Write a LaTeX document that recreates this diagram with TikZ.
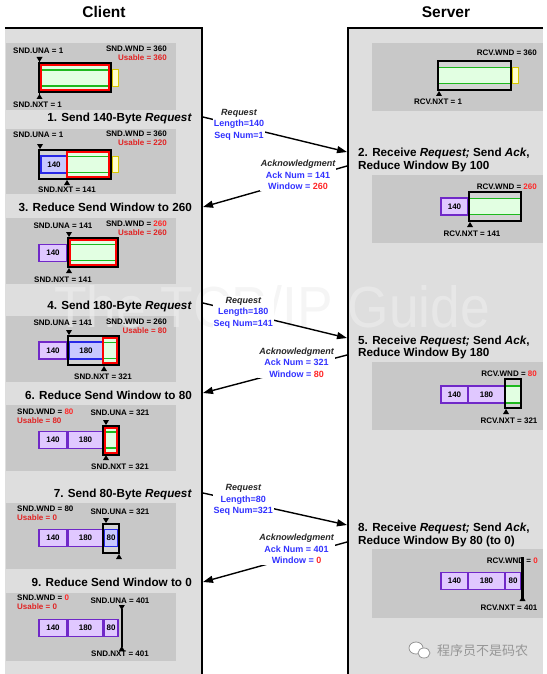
\documentclass[tikz,border=0pt]{standalone}
\usepackage{fontspec}
\setmainfont{Liberation Sans}
\newfontfamily\cjkfont{Noto Sans CJK SC}
\usetikzlibrary{arrows.meta}
\definecolor{panelg}{RGB}{222,222,222}
\definecolor{boxg}{RGB}{200,200,200}
\definecolor{wing}{RGB}{212,212,212}
\definecolor{lgreen}{RGB}{226,255,226}
\definecolor{dgreen}{RGB}{30,185,30}
\definecolor{pfill}{RGB}{224,200,255}
\definecolor{pdraw}{RGB}{112,40,200}
\definecolor{bfill}{RGB}{200,200,255}
\definecolor{bdraw}{RGB}{40,40,230}
\definecolor{yfill}{RGB}{255,255,205}
\definecolor{ydraw}{RGB}{215,200,0}
\definecolor{tblue}{RGB}{50,50,255}
\definecolor{tred}{RGB}{255,40,40}
\definecolor{ured}{RGB}{225,35,35}
\definecolor{wmark}{RGB}{238,238,238}
\definecolor{wxg}{RGB}{150,150,150}
\newcommand\ptrdown[2]{\fill (#1-3,#2-5) -- (#1+3,#2-5) -- (#1,#2) -- cycle;}
\newcommand\ptrup[2]{\fill (#1-3,#2+5) -- (#1+3,#2+5) -- (#1,#2) -- cycle;}
\newcommand\redval[1]{\textcolor{tred}{#1}}
\tikzset{
  lbl/.style={font=\bfseries\fontsize{8}{9}\selectfont, inner sep=0pt, text height=5.8pt, text depth=0pt},
  lblw/.style={lbl, anchor=west},
  lble/.style={lbl, anchor=east},
  usable/.style={text=ured},
  hdr/.style={font=\bfseries\fontsize{11.7}{13}\selectfont, inner sep=0pt, text height=8.4pt, text depth=0pt},
  ttl/.style={font=\bfseries\fontsize{15.5}{17}\selectfont, inner sep=0pt, text height=11.1pt, text depth=0pt},
  msg/.style={line width=1.4pt, -{Triangle[length=10pt,width=7pt]}},
  mlab/.style={fill=white, inner sep=1pt, align=center, text=tblue, font=\bfseries\fontsize{9}{11.5}\selectfont},
  seg/.style={line width=1.3pt, minimum height=17pt, inner sep=0pt, font=\bfseries\fontsize{8}{9}\selectfont},
  pseg/.style={seg, draw=pdraw, fill=pfill},
  bseg/.style={seg, draw=bdraw, fill=bfill},
  winb/.style={draw=black, line width=2pt},
  redbox/.style={draw=red, line width=2pt, fill=lgreen},
  gline/.style={draw=dgreen, line width=1.4pt},
  yel/.style={draw=ydraw, fill=yfill, line width=1pt},
}
\begin{document}
\begin{tikzpicture}[x=1pt,y=-1pt]
\useasboundingbox (0,0) rectangle (546,674);
% panels
\fill[panelg] (5,28) rectangle (202,674);
\fill[panelg] (348,28) rectangle (543,674);
% inner boxes
\fill[boxg] (6,43) rectangle (176,110);
\fill[boxg] (6,129) rectangle (176,194);
\fill[boxg] (6,218) rectangle (176,284);
\fill[boxg] (6,316) rectangle (176,382);
\fill[boxg] (6,405) rectangle (176,471);
\fill[boxg] (6,503) rectangle (176,569);
\fill[boxg] (6,593) rectangle (176,661);
\fill[boxg] (372,43) rectangle (543,111);
\fill[boxg] (372,175) rectangle (543,243);
\fill[boxg] (372,362) rectangle (543,430);
\fill[boxg] (372,549) rectangle (543,618);
% watermark
\node[font=\fontsize{58}{58}\selectfont, text=wmark, opacity=0.6, anchor=base, inner sep=0pt] (wmk) at (272,327) {\scalebox{0.92}[1]{The TCP/IP Guide}};
% borders
\draw[line width=2pt] (5,28) -- (202,28) -- (202,674);
\draw[line width=2pt] (348,674) -- (348,28) -- (543,28);
% titles
\node[ttl] (tcl) at (104,12) {Client};
\node[ttl] (tsv) at (446,12) {Server};

% ---- Box A
\draw[line width=0.8pt] (39.5,57) -- (39.5,99);
\fill[wing] (39,63.5) rectangle (111,92.5);
\draw[redbox] (41,65.5) rectangle (109,90.5);
\draw[gline] (42,70) -- (108,70) (42,86) -- (108,86);
\draw[winb] (39,63.5) rectangle (111,92.5);
\draw[yel] (112.5,69.5) rectangle (118.5,86.5);
\ptrdown{39.5}{62}
\ptrup{39.5}{94}
\node[lblw] (a-una) at (13,51) {SND.UNA = 1};
\node[lblw] (a-nxt) at (13,105) {SND.NXT = 1};
\node[lble] (a-wnd) at (167,49) {SND.WND = 360};
\node[lble,usable] (a-use) at (167,57.5) {Usable = 360};
\node[hdr, anchor=east] (h1) at (192,117) {1. Send 140-Byte \textit{Request}};

% ---- Box B
\fill[wing] (39,150) rectangle (111,179);
\node[bseg, minimum width=26pt] (b140) at (54,164.5) {140};
\draw[redbox] (67,152) rectangle (109,177);
\draw[gline] (68,156.5) -- (108,156.5) (68,172.5) -- (108,172.5);
\draw[winb] (39,150) rectangle (111,179);
\draw[yel] (112.5,156.5) rectangle (118.5,172.5);
\ptrdown{40}{149}
\ptrup{67}{180}
\node[lblw] (b-una) at (13,135) {SND.UNA = 1};
\node[lbl] (b-nxt) at (67,190) {SND.NXT = 141};
\node[lble] (b-wnd) at (167,134) {SND.WND = 360};
\node[lble,usable] (b-use) at (167,143) {Usable = 220};
\node[hdr, anchor=east] (h3) at (192,207) {3. Reduce Send Window to 260};

% ---- Box C
\node[pseg, minimum width=28pt] (c140) at (53,253) {140};
\fill[wing] (68,238) rectangle (118,267);
\draw[redbox] (70,240) rectangle (116,265);
\draw[gline] (71,244.5) -- (115,244.5) (71,260.5) -- (115,260.5);
\draw[winb] (68,238) rectangle (118,267);
\ptrdown{69}{237}
\ptrup{69}{268}
\node[lbl] (c-una) at (63,226) {SND.UNA = 141};
\node[lbl] (c-nxt) at (63,280) {SND.NXT = 141};
\node[lble] (c-wnd) at (167,224) {SND.WND = \redval{260}};
\node[lble,usable] (c-use) at (167,233) {Usable = 260};
\node[hdr, anchor=east] (h4) at (192,305) {4. Send 180-Byte \textit{Request}};

% ---- Box D
\node[pseg, minimum width=28pt] (d140) at (53,350.5) {140};
\fill[wing] (68,336) rectangle (119,365);
\node[bseg, minimum width=34pt] (d180) at (86,350.5) {180};
\draw[redbox] (103,338) rectangle (117,363);
\draw[gline] (104,342.5) -- (116,342.5) (104,358.5) -- (116,358.5);
\draw[winb] (68,336) rectangle (119,365);
\ptrdown{69}{335}
\ptrup{104}{366}
\node[lbl] (d-una) at (63,323) {SND.UNA = 141};
\node[lbl] (d-nxt) at (103,377) {SND.NXT = 321};
\node[lble] (d-wnd) at (167,322) {SND.WND = 260};
\node[lble,usable] (d-use) at (167,331) {Usable = 80};
\node[hdr, anchor=east] (h6) at (192,395) {6. Reduce Send Window to 80};

% ---- Box E
\node[pseg, minimum width=28pt] (e140) at (53,440) {140};
\node[pseg, minimum width=35pt] (e180) at (85.5,440) {180};
\fill[wing] (103,425.5) rectangle (119,454.5);
\draw[redbox] (105,427.5) rectangle (117,452.5);
\draw[gline] (106,432) -- (116,432) (106,448) -- (116,448);
\draw[winb] (103,425.5) rectangle (119,454.5);
\ptrdown{106}{425}
\ptrup{106}{455}
\node[lblw] (e-wnd) at (17,412) {SND.WND = \redval{80}};
\node[lblw,usable] (e-use) at (17,421) {Usable = 80};
\node[lbl] (e-una) at (120,413) {SND.UNA = 321};
\node[lbl] (e-nxt) at (120,467) {SND.NXT = 321};
\node[hdr, anchor=east] (h7) at (192,493) {7. Send 80-Byte \textit{Request}};

% ---- Box F
\node[pseg, minimum width=28pt] (f140) at (53,538) {140};
\node[pseg, minimum width=35pt] (f180) at (85.5,538) {180};
\fill[wing] (103,523.5) rectangle (119,552.5);
\node[bseg, minimum width=13pt] (f80) at (111,538) {80};
\draw[winb] (103,523.5) rectangle (119,552.5);
\ptrdown{106}{523}
\ptrup{119}{554}
\node[lblw] (f-wnd) at (17,509) {SND.WND = 80};
\node[lblw,usable] (f-use) at (17,518) {Usable = 0};
\node[lbl] (f-una) at (120,512) {SND.UNA = 321};
\node[hdr, anchor=east] (h9) at (192,582) {9. Reduce Send Window to 0};

% ---- Box G
\node[pseg, minimum width=28pt] (g140) at (53,628) {140};
\node[pseg, minimum width=35pt] (g180) at (85.5,628) {180};
\node[pseg, minimum width=14pt] (g80) at (111,628) {80};
\fill (120.5,609) rectangle (123,647);
\ptrdown{121.8}{610}
\ptrup{121.8}{646}
\node[lblw] (g-wnd) at (17,598) {SND.WND = \redval{0}};
\node[lblw,usable] (g-use) at (17,607) {Usable = 0};
\node[lbl] (g-una) at (120,601) {SND.UNA = 401};
\node[lbl] (g-nxt) at (120,654) {SND.NXT = 401};

% ---- Server S1
\fill[wing] (438,61) rectangle (511,90);
\fill[lgreen] (439,67.5) rectangle (510,83.5);
\draw[gline] (439,67.5) -- (510,67.5) (439,83.5) -- (510,83.5);
\draw[winb] (438,61) rectangle (511,90);
\draw[yel] (512.5,67.5) rectangle (518,83.5);
\ptrup{439}{91}
\node[lble] (s1-wnd) at (537,53) {RCV.WND = 360};
\node[lbl] (s1-nxt) at (438,102) {RCV.NXT = 1};

% ---- Server S2
\node[hdr, anchor=west] (h2a) at (358,152) {2. Receive \textit{Request;} Send \textit{Ack},};
\node[hdr, anchor=west] (h2b) at (358,165) {Reduce Window By 100};
\node[pseg, minimum width=27pt] (s2140) at (454.5,206.5) {140};
\fill[wing] (469,192) rectangle (521,221);
\fill[lgreen] (470,198.5) rectangle (520,214.5);
\draw[gline] (470,198.5) -- (520,198.5) (470,214.5) -- (520,214.5);
\draw[winb] (469,192) rectangle (521,221);
\ptrup{470}{222}
\node[lble] (s2-wnd) at (537,187) {RCV.WND = \redval{260}};
\node[lbl] (s2-nxt) at (472,234) {RCV.NXT = 141};

% ---- Server S5
\node[hdr, anchor=west] (h5a) at (358,340) {5. Receive \textit{Request;} Send \textit{Ack},};
\node[hdr, anchor=west] (h5b) at (358,352) {Reduce Window By 180};
\node[pseg, minimum width=27pt] (s5140) at (454.5,394.5) {140};
\node[pseg, minimum width=37pt] (s5180) at (486.5,394.5) {180};
\fill[wing] (505,379) rectangle (521,408);
\fill[lgreen] (506,386) rectangle (520,403);
\draw[gline] (506,386) -- (520,386) (506,403) -- (520,403);
\draw[winb] (505,379) rectangle (521,408);
\ptrup{506}{409}
\node[lble] (s5-wnd) at (537,374) {RCV.WND = \redval{80}};
\node[lbl] (s5-nxt) at (509,421) {RCV.NXT = 321};

% ---- Server S8
\node[hdr, anchor=west] (h8a) at (358,527) {8. Receive \textit{Request;} Send \textit{Ack},};
\node[hdr, anchor=west] (h8b) at (358,540) {Reduce Window By 80 (to 0)};
\node[pseg, minimum width=27pt] (s8140) at (454.5,581) {140};
\node[pseg, minimum width=37pt] (s8180) at (486.5,581) {180};
\node[pseg, minimum width=16pt] (s880) at (513,581) {80};
\node[lble] (s8-wnd) at (538,561) {RCV.WND = \redval{0}};
\fill (521,557) rectangle (524,598);
\ptrup{522.5}{596}
\node[lbl] (s8-nxt) at (509,608) {RCV.NXT = 401};

% ---- messages
\coordinate (q1a) at (203,117); \coordinate (q1b) at (347,152);
\draw[msg] (q1a) -- node[mlab, pos=0.25, yshift=1pt] (q1l) {{\color{black!85}\itshape Request}\\Length=140\\Seq Num=1} (q1b);
\coordinate (k1a) at (347,166); \coordinate (k1b) at (203,207);
\draw[msg] (k1a) -- node[mlab, pos=0.34, yshift=5pt] (k1l) {{\color{black!85}\itshape Acknowledgment}\\Ack Num = 141\\Window = \redval{260}} (k1b);
\coordinate (q2a) at (203,303); \coordinate (q2b) at (347,338);
\draw[msg] (q2a) -- node[mlab, pos=0.28] (q2l) {{\color{black!85}\itshape Request}\\Length=180\\Seq Num=141} (q2b);
\coordinate (k2a) at (347,355); \coordinate (k2b) at (203,393);
\draw[msg] (k2a) -- node[mlab, pos=0.35, yshift=6pt] (k2l) {{\color{black!85}\itshape Acknowledgment}\\Ack Num = 321\\Window = \redval{80}} (k2b);
\coordinate (q3a) at (203,493); \coordinate (q3b) at (347,525);
\draw[msg] (q3a) -- node[mlab, pos=0.28, yshift=2pt] (q3l) {{\color{black!85}\itshape Request}\\Length=80\\Seq Num=321} (q3b);
\coordinate (k3a) at (347,542); \coordinate (k3b) at (203,582);
\draw[msg] (k3a) -- node[mlab, pos=0.35, yshift=7pt] (k3l) {{\color{black!85}\itshape Acknowledgment}\\Ack Num = 401\\Window = \redval{0}} (k3b);

% ---- wechat mark
\draw[wxg, fill=white, line width=0.8pt] (416,648) ellipse (7pt and 6pt);
\draw[wxg, fill=white, line width=0.8pt] (424,653) ellipse (6pt and 5pt);
\node[font=\cjkfont\fontsize{13}{13}\selectfont, text=wxg, anchor=west, inner sep=0pt] (wxt) at (437,651) {程序员不是码农};
\end{tikzpicture}
\end{document}
